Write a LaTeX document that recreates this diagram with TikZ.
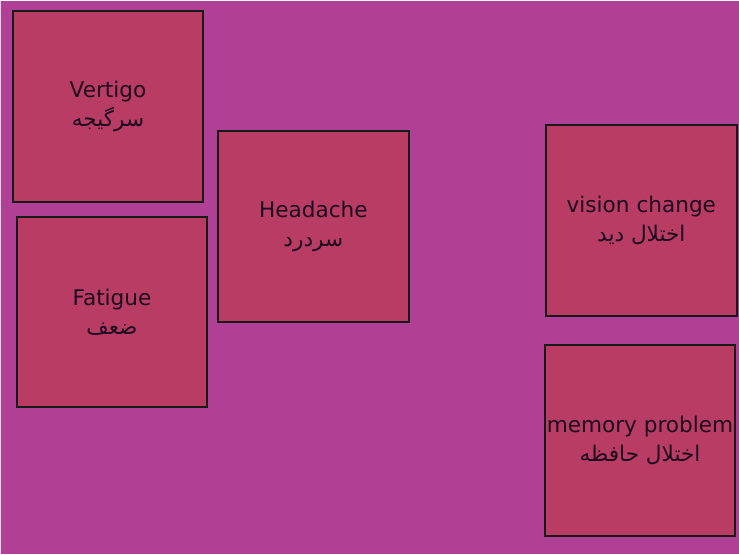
\documentclass[tikz,border=0pt]{standalone}
\usepackage{fontspec}
\setmainfont{DejaVu Sans}
\newfontfamily\arabicfont[Script=Arabic]{DejaVu Sans}
\TeXXeTstate=1
\usetikzlibrary{shapes.geometric, arrows}
\definecolor{bgpurple}{RGB}{176,64,150}
\definecolor{boxred}{RGB}{184,60,100}
\definecolor{textdark}{RGB}{30,10,30}
\tikzstyle{symptom} = [draw=black!90, line width=1.4pt, fill=boxred, minimum size=143pt, align=center, font=\fontsize{16.2}{22}\selectfont, text=textdark, inner sep=0pt]

\begin{document}
\begin{tikzpicture}[node distance=154pt]

%background
\fill [bgpurple] (0,0) rectangle (554.25pt,-414.75pt);
\draw [gray!30, line width=1pt] (0.5pt,0) -- (0.5pt,-414.75pt);
\useasboundingbox (0,0) rectangle (554.25pt,-414.75pt);

%nodes
\node (1) [symptom] at (81pt,-79.5pt) {Vertigo\\{\arabicfont\beginR سرگیجه\endR}};
\node (2) [symptom, below of=1, xshift=3pt] {Fatigue\\{\arabicfont\beginR ضعف\endR}};
\node (3) [symptom, right of=1, yshift=-90pt] {Headache\\{\arabicfont\beginR سردرد\endR}};
\node (4) [symptom, right of=3, xshift=92pt, yshift=4.5pt] {vision change\\{\arabicfont\beginR اختلال دید\endR}};
\node (5) [symptom, below of=4, xshift=-1pt, yshift=-11pt] {memory problem\\{\arabicfont\beginR اختلال حافظه\endR}};

\end{tikzpicture}
\end{document}
